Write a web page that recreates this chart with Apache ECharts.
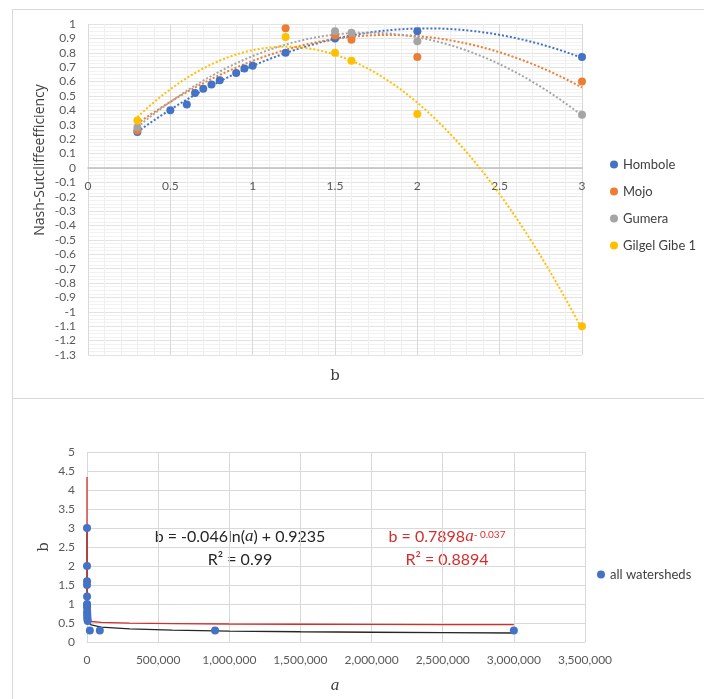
<!DOCTYPE html>
<html>
<head>
<meta charset="utf-8">
<script src="https://cdn.jsdelivr.net/npm/echarts@6/dist/echarts.min.js"></script>
<style>
  html, body { margin: 0; padding: 0; background: #fff; }
  #chart { width: 704px; height: 699px; }
</style>
</head>
<body>
<div id="chart"></div>
<script>
// top chart: NSE against b for each watershed
const homboleB = [0.3, 0.5, 0.6, 0.65, 0.7, 0.75, 0.8, 0.9, 0.95, 1.0, 1.2, 1.5, 2.0, 3.0]
const homboleNse = [0.25, 0.40, 0.44, 0.52, 0.55, 0.58, 0.61, 0.66, 0.69, 0.71, 0.80, 0.90, 0.95, 0.77]
const mojoB = [0.3, 1.2, 1.5, 1.6, 2.0, 3.0]
const mojoNse = [0.26, 0.97, 0.92, 0.89, 0.77, 0.60]
const gumeraB = [0.3, 1.5, 1.6, 2.0, 3.0]
const gumeraNse = [0.28, 0.95, 0.94, 0.88, 0.37]
const gibeB = [0.3, 1.2, 1.5, 1.6, 2.0, 3.0]
const gibeNse = [0.33, 0.91, 0.80, 0.745, 0.375, -1.10]
const topNames = ['Hombole', 'Mojo', 'Gumera', 'Gilgel Gibe 1']
const topColors = ['#4472C4', '#ED7D31', '#A5A5A5', '#FFC000']

// bottom chart: a against b for all watersheds
const allA = [50, 80, 120, 200, 300, 500, 700, 900, 1200, 1500, 2000, 2500, 3000, 5000, 20000, 90000, 900000, 3000000]
const allB = [3.0, 2.0, 1.6, 1.5, 1.2, 1.0, 0.95, 0.9, 0.8, 0.75, 0.7, 0.65, 0.6, 0.55, 0.3, 0.3, 0.3, 0.3]
// trendline equations as printed on the chart
const logFit = { k: -0.046, c: 0.9235 }
const powFit = { k: 0.7898, p: -0.037 }
const trendA = [1e-20, 1e-15, 1e-10, 1e-6, 1e-3, 1, 100, 1000, 5000, 10000, 30000, 100000, 300000, 600000, 1000000, 1500000, 2000000, 2500000, 3000000]

const nseTicks = { min: -1.3, max: 1, step: 0.1 }

function pairs(xs, ys) {
  return xs.map((x, i) => [x, ys[i]])
}

// least squares quadratic, like the excel poly(2) trendline
function polyTrend(xs, ys) {
  let s = [0, 0, 0, 0, 0], t = [0, 0, 0]
  xs.forEach((x, i) => {
    for (let k = 0; k < 5; k++) s[k] += Math.pow(x, k)
    for (let k = 0; k < 3; k++) t[k] += ys[i] * Math.pow(x, k)
  })
  const m = [[s[0], s[1], s[2], t[0]], [s[1], s[2], s[3], t[1]], [s[2], s[3], s[4], t[2]]]
  for (let c = 0; c < 3; c++) {
    for (let r = c + 1; r < 3; r++) {
      const f = m[r][c] / m[c][c]
      for (let k = c; k < 4; k++) m[r][k] -= f * m[c][k]
    }
  }
  const co = [0, 0, 0]
  for (let r = 2; r >= 0; r--) {
    let v = m[r][3]
    for (let k = r + 1; k < 3; k++) v -= m[r][k] * co[k]
    co[r] = v / m[r][r]
  }
  const lo = Math.min(...xs), hi = Math.max(...xs)
  const out = []
  for (let i = 0; i <= 60; i++) {
    const x = lo + (hi - lo) * i / 60
    out.push([x, co[0] + co[1] * x + co[2] * x * x])
  }
  return out
}

const topSets = [[homboleB, homboleNse], [mojoB, mojoNse], [gumeraB, gumeraNse], [gibeB, gibeNse]]

const labelStyle = { color: '#595959', fontSize: 12, fontFamily: 'Lato' }

const topGrid = { left: 88, top: 24, width: 494, height: 331 }
// x labels of the top chart sit on the zero line
const zeroOffset = -topGrid.height * (0 - nseTicks.min) / (nseTicks.max - nseTicks.min)

const series = []
topSets.forEach(([xs, ys], i) => {
  series.push({
    name: topNames[i] + ' trend', type: 'line', xAxisIndex: 0, yAxisIndex: 0,
    data: polyTrend(xs, ys), showSymbol: false, symbol: 'none', silent: true,
    lineStyle: { color: topColors[i], width: 2, type: [2, 2] }, z: 2
  })
})
topSets.forEach(([xs, ys], i) => {
  series.push({
    name: topNames[i], type: 'scatter', xAxisIndex: 0, yAxisIndex: 0,
    data: pairs(xs, ys), symbolSize: 8, itemStyle: { color: topColors[i], opacity: 1 }, z: 3
  })
})
series.push({
  name: 'log trend', type: 'line', xAxisIndex: 1, yAxisIndex: 1, symbol: 'none',
  data: trendA.map(a => [a, logFit.k * Math.log(a) + logFit.c]),
  lineStyle: { color: '#262626', width: 1.3 }, z: 2
})
series.push({
  name: 'power trend', type: 'line', xAxisIndex: 1, yAxisIndex: 1, symbol: 'none',
  data: trendA.map(a => [a, powFit.k * Math.pow(a, powFit.p)]),
  lineStyle: { color: '#D62D2D', width: 1.3 }, z: 2
})
series.push({
  name: 'all watersheds', type: 'scatter', xAxisIndex: 1, yAxisIndex: 1,
  data: pairs(allA, allB), symbolSize: 8, itemStyle: { color: '#4472C4', opacity: 1 }, z: 3
})

const chart = echarts.init(document.getElementById('chart'))
chart.setOption({
  animation: false,
  backgroundColor: '#fff',
  grid: [
    topGrid,
    { left: 87, top: 452, width: 498, height: 190 }
  ],
  legend: [
    {
      data: topNames, orient: 'vertical', left: 605, top: 153, itemGap: 14,
      icon: 'circle', itemWidth: 8, itemHeight: 8,
      textStyle: { color: '#404040', fontSize: 13, fontFamily: 'Lato' }
    },
    {
      data: ['all watersheds'], orient: 'vertical', left: 592, top: 563,
      icon: 'circle', itemWidth: 8, itemHeight: 8, itemGap: 10,
      textStyle: { color: '#404040', fontSize: 13, fontFamily: 'Lato' }
    }
  ],
  xAxis: [
    {
      type: 'value', gridIndex: 0, min: 0, max: 3, interval: 0.5,
      offset: zeroOffset,
      axisLine: { onZero: false, lineStyle: { color: '#bfbfbf', width: 1.5 } },
      axisTick: { show: false },
      axisLabel: Object.assign({ margin: 12 }, labelStyle),
      splitLine: { lineStyle: { color: '#d9d9d9' } },
      minorTick: { show: false, splitNumber: 5 },
      minorSplitLine: { show: true, lineStyle: { color: '#efefef' } }
    },
    {
      type: 'value', gridIndex: 1, min: 0, max: 3500000, interval: 500000,
      axisLine: { lineStyle: { color: '#d9d9d9' } },
      axisTick: { show: false },
      axisLabel: Object.assign({ margin: 12, formatter: v => v.toLocaleString('en-US') }, labelStyle),
      splitLine: { lineStyle: { color: '#d9d9d9' } }
    }
  ],
  yAxis: [
    {
      type: 'value', gridIndex: 0, min: nseTicks.min, max: nseTicks.max, interval: nseTicks.step,
      axisLine: { show: false }, axisTick: { show: false },
      axisLabel: Object.assign({ margin: 12, formatter: v => String(Math.round(v * 10) / 10) }, labelStyle),
      splitLine: { lineStyle: { color: '#e3e3e3' } },
      minorTick: { show: false, splitNumber: 4 },
      minorSplitLine: { show: true, lineStyle: { color: '#f2f2f2' } }
    },
    {
      type: 'value', gridIndex: 1, min: 0, max: 5, interval: 0.5,
      axisLine: { show: false }, axisTick: { show: false },
      axisLabel: Object.assign({ margin: 12 }, labelStyle),
      splitLine: { lineStyle: { color: '#d9d9d9' } }
    }
  ],
  graphic: [
    { type: 'rect', shape: { x: 12.5, y: 9.5, width: 700, height: 389 }, style: { fill: null, stroke: '#d9d9d9', lineWidth: 1 }, silent: true, z: -1 },
    { type: 'rect', shape: { x: 12.5, y: 398.5, width: 700, height: 320 }, style: { fill: null, stroke: '#d9d9d9', lineWidth: 1 }, silent: true, z: -1 },
    {
      type: 'text', x: 40, y: 160, rotation: Math.PI / 2,
      style: { text: 'Nash-Sutcliffeefficiency', fill: '#404040', fontSize: 14, fontFamily: 'Open Sans', align: 'center', verticalAlign: 'middle' }
    },
    {
      type: 'text', x: 335, y: 376,
      style: { text: 'b', fill: '#404040', fontSize: 15, fontFamily: 'DejaVu Serif', align: 'center', verticalAlign: 'middle' }
    },
    {
      type: 'text', x: 44, y: 547, rotation: Math.PI / 2,
      style: { text: 'b', fill: '#404040', fontSize: 15, fontFamily: 'DejaVu Serif', align: 'center', verticalAlign: 'middle' }
    },
    {
      type: 'text', x: 335, y: 686,
      style: { text: 'a', fill: '#404040', fontSize: 17, fontStyle: 'italic', fontFamily: 'Liberation Serif', align: 'center', verticalAlign: 'middle' }
    },
    {
      type: 'text', x: 240, y: 537,
      style: {
        text: '{t|b = -0.046ln(}{i|a}{t|) + 0.9235}', align: 'center', verticalAlign: 'middle',
        rich: {
          t: { fill: '#262626', fontSize: 16, fontFamily: 'Lato' },
          i: { fill: '#262626', fontSize: 17, fontStyle: 'italic', fontFamily: 'Liberation Serif' }
        }
      }
    },
    {
      type: 'text', x: 240, y: 560,
      style: { text: 'R² = 0.99', fill: '#262626', fontSize: 16, fontFamily: 'Lato', align: 'center', verticalAlign: 'middle' }
    },
    {
      type: 'text', x: 447, y: 537,
      style: {
        text: '{t|b = 0.7898}{i|a}{s|- 0.037}', align: 'center', verticalAlign: 'middle',
        rich: {
          t: { fill: '#D62D2D', fontSize: 16, fontFamily: 'Lato', lineHeight: 18 },
          i: { fill: '#D62D2D', fontSize: 17, fontStyle: 'italic', fontFamily: 'Liberation Serif', lineHeight: 18 },
          s: { fill: '#D62D2D', fontSize: 10, fontFamily: 'Lato', verticalAlign: 'top', lineHeight: 18, padding: [2, 0, 0, 0] }
        }
      }
    },
    {
      type: 'text', x: 447, y: 560,
      style: { text: 'R² = 0.8894', fill: '#D62D2D', fontSize: 16, fontFamily: 'Lato', align: 'center', verticalAlign: 'middle' }
    }
  ],
  series: series
})
</script>
</body>
</html>
